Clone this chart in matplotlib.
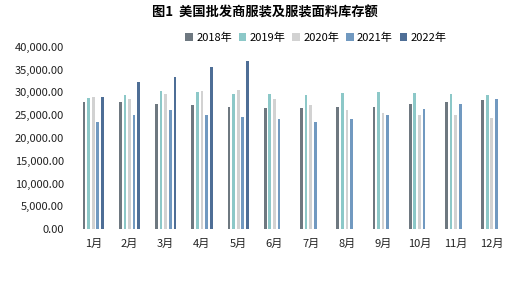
import numpy as np
import matplotlib
matplotlib.use("Agg")
import matplotlib.pyplot as plt
from matplotlib.ticker import FuncFormatter

plt.rcParams['font.family'] = ['Noto Sans CJK SC', 'DejaVu Sans']

months = ['1月', '2月', '3月', '4月', '5月', '6月', '7月', '8月', '9月', '10月', '11月', '12月']
years = ['2018年', '2019年', '2020年', '2021年', '2022年']
v2018 = [27800, 27800, 27500, 27300, 26850, 26600, 26600, 26700, 26850, 27500, 27800, 28400]
v2019 = [28750, 29500, 30400, 30000, 29650, 29700, 29500, 29850, 30050, 29800, 29650, 29500]
v2020 = [29050, 28600, 29700, 30350, 30450, 28600, 27200, 26100, 25450, 25000, 25000, 24350]
v2021 = [23600, 25150, 26050, 24950, 24500, 24150, 23450, 24250, 25150, 26450, 27450, 28650]
v2022 = [29100, 32200, 33500, 35500, 36800]
colors = ['#6e7880', '#8cc8c8', '#d2d2d2', '#7199c0', '#4e6e96']

series = [v2018, v2019, v2020, v2021, v2022]

fig = plt.figure(figsize=(5.29, 2.81), dpi=100)
ax = fig.add_axes([0.142, 0.185, 0.822, 0.648])

x = np.arange(len(months))
step = 0.127
width = 0.075
for i, (vals, c, lab) in enumerate(zip(series, colors, years)):
    xs = x[:len(vals)] + (i - 2) * step
    ax.bar(xs, vals, width=width, color=c, label=lab)

ax.set_xlim(-0.5, 11.5)
ax.set_ylim(0, 40000)
ax.set_yticks(np.arange(0, 40001, 5000))
ax.yaxis.set_major_formatter(FuncFormatter(lambda v, p: f'{v:,.2f}'))
ax.set_xticks(x)
ax.set_xticklabels(months)
ax.tick_params(axis='both', length=0, labelsize=8, colors='#222222')
ax.tick_params(axis='y', pad=8)
ax.tick_params(axis='x', pad=7)
for s in ax.spines.values():
    s.set_visible(False)

fig.text(0.5, 0.955, '图1  美国批发商服装及服装面料库存额', ha='center', va='center',
         fontsize=9.5, fontweight='bold')
fig.legend(loc='center', bbox_to_anchor=(0.597, 0.865), ncol=5, frameon=False,
           fontsize=8, handlelength=0.7, handleheight=0.7, handletextpad=0.3,
           columnspacing=0.6)

fig.savefig('out.png', dpi=100)
